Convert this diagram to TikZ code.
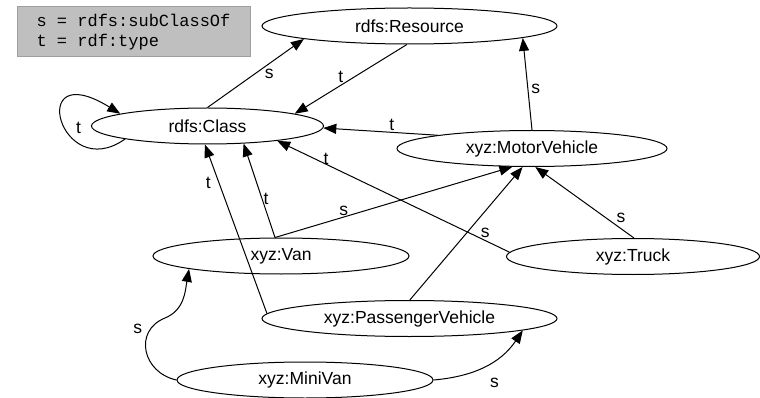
\documentclass[tikz,border=0pt]{standalone}
\usepackage{fontspec}
\setmainfont{Liberation Sans}
\setmonofont{Liberation Mono}
\usetikzlibrary{arrows.meta,positioning,shapes.geometric}

\begin{document}
\begin{tikzpicture}[x=1pt, y=-1pt, font=\fontsize{17.5}{20}\selectfont, line width=1pt, >={Triangle[length=13pt,width=10pt]}]
\tikzset{
  term/.style={ellipse, draw, inner sep=0pt, minimum height=36pt},
  lbl/.style ={inner sep=1pt},
  key/.style ={rectangle, draw=gray!75, fill=gray!50, align=left, inner sep=0pt, minimum width=233pt, minimum height=50pt, font=\ttfamily\fontsize{17}{19.5}\selectfont}
}
\useasboundingbox (0,0) rectangle (760,398);
\node[key] (key) at (133.5,32) {s = rdfs:subClassOf\\t = rdf:type};
\node[term, minimum width=295pt] (res)   at (409.5,26)    {rdfs:Resource};
\node[term, minimum width=232pt] (cls)   at (207.5,126)   {rdfs:Class};
\node[term, minimum width=270pt] (motor) at (532,148.5)   {xyz:MotorVehicle};
\node[term, minimum width=256pt] (van)   at (281,256)     {xyz:Van};
\node[term, minimum width=253pt] (truck) at (633,256.5)   {xyz:Truck};
\node[term, minimum width=295pt] (pass)  at (409.5,318.5) {xyz:PassengerVehicle};
\node[term, minimum width=256pt] (mini)  at (305,380)     {xyz:MiniVan};
\coordinate (bend) at (165,318);
% subClassOf and type edges
\draw[->] (cls.90) -- node[lbl, pos=.58, below right] {s} (res.-173);
\draw[->] (res.-98) -- node[lbl, pos=.56, above left=-1pt] {t} (cls.8);
\draw[->] (motor.172) -- node[lbl, pos=.4, above] {t} (cls.-1);
\draw[->] (motor.90) -- node[lbl, pos=.45, right=2pt] {s} (res.-6.5);
\draw[->] (truck.178) -- node[lbl, pos=.79, above=-2pt] {t} (cls.-12);
\draw[->] (truck.87) -- node[lbl, pos=.19, above right] {s} (motor.-80);
\draw[->] (van.108) -- node[lbl, pos=.29, above] {s} (motor.-137);
\draw[->] (van.108) -- node[lbl, pos=.41, right] {t} (cls.-26);
\draw[->] (pass.178) -- node[lbl, pos=.77, left=7pt] {t} (cls.-98);
\draw[->] (pass.89) -- node[lbl, pos=.58, below right=6pt] {s} (motor.-117);
\draw[->] (mini.180) to[out=168, in=202, looseness=1.4] node[lbl, pos=.8, left=7pt] {s} (bend) to[out=22, in=260] (van.-172);
\draw[->] (mini.0) to[out=5, in=-124] node[lbl, pos=.5, below right=10pt and 4pt] {s} (pass.-6.5);
% self loop
\draw[->] (cls.-171) .. controls (60,185) and (25,55) .. (cls.172) node[lbl, pos=.45, right=10pt] {t};
\end{tikzpicture}
\end{document}
